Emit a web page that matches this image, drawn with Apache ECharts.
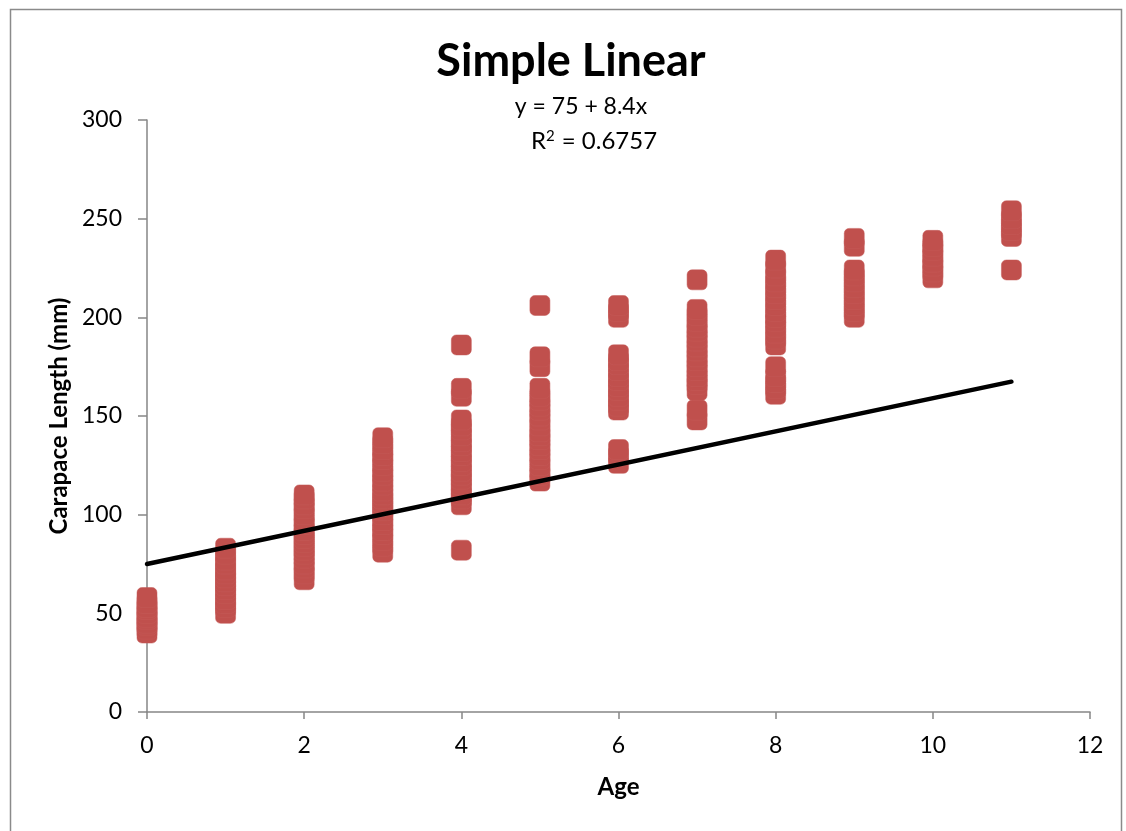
<!DOCTYPE html>
<html>
<head>
<meta charset="utf-8">
<script src="https://cdn.jsdelivr.net/npm/echarts@6/dist/echarts.min.js"></script>
<style>
html,body{margin:0;padding:0;background:#fff;}
#main{width:1126px;height:831px;}
</style>
</head>
<body>
<div id="main"></div>
<script>
// Ages (x) and carapace lengths (y), one list per age
const ages = [0,1,2,3,4,5,6,7,8,9,10,11];
const age0 = [40,42,44,45,47,48,50,52,53,55,58];
const age1 = [50,53,55,57,60,62,64,66,68,70,72,75,77,80,83];
const age2 = [67,70,73,75,78,80,82,84,86,88,90,92,95,97,100,103,105,108,110];
const age3 = [81,84,87,90,92,95,97,100,102,104,106,108,110,112,115,117,120,122,125,128,130,133,136,139];
const age4 = [82,105,108,110,113,115,118,120,122,125,127,130,132,135,137,140,143,145,148,160,164,186];
const age5 = [117,120,122,125,128,130,133,135,138,140,142,145,148,150,153,155,158,160,164,175,180,206];
const age6 = [126,130,133,153,155,158,160,163,165,168,170,173,176,178,181,200,203,206];
const age7 = [148,153,163,166,168,170,173,175,178,180,183,185,188,190,193,195,198,201,204,219];
const age8 = [161,164,167,170,175,186,189,192,195,198,200,203,206,209,212,215,218,221,225,229];
const age9 = [200,203,206,209,212,215,218,221,224,236,240];
const age10 = [220,223,226,228,231,234,236,239];
const age11 = [224,241,244,247,250,254];
const lengthsByAge = [age0,age1,age2,age3,age4,age5,age6,age7,age8,age9,age10,age11];

// Fitted line y = 75 + 8.4x, drawn from x=0 to x=11
const trendX = [0, 11];
const trendY = [75, 167.4];

const xTicks = [0,2,4,6,8,10,12];
const yTicks = [0,50,100,150,200,250,300];

const titleText = 'Simple Linear';
const eqText = 'y = 75 + 8.4x';
const r2Text = '0.6757';
const xName = 'Age';
const yName = 'Carapace Length (mm)';

const points = [];
ages.forEach((a, i) => lengthsByAge[i].forEach(v => points.push([a, v])));
const trend = trendX.map((x, i) => [x, trendY[i]]);

const FONT = 'Lato, "Open Sans", sans-serif';
const chart = echarts.init(document.getElementById('main'), null, {renderer: 'canvas'});
chart.setOption({
  backgroundColor: '#fff',
  animation: false,
  graphic: [{
    type: 'rect', left: 8, top: 7, silent: true,
    shape: {width: 1111, height: 840},
    style: {fill: 'none', stroke: '#8a8a8a', lineWidth: 1.5}
  }],
  title: [
    {text: titleText, left: 566, top: 34, textAlign: 'center',
     textStyle: {fontFamily: FONT, fontWeight: 'bold', fontSize: 45, color: '#000'}},
    {text: eqText, left: 576, top: 90, textAlign: 'center',
     textStyle: {fontFamily: FONT, fontWeight: 'normal', fontSize: 23, color: '#000'}},
    {text: 'R{sup|2} = ' + r2Text, left: 589, top: 124, textAlign: 'center',
     textStyle: {fontFamily: FONT, fontWeight: 'normal', fontSize: 24, color: '#000',
       rich: {sup: {fontFamily: FONT, fontSize: 15, verticalAlign: 'top', lineHeight: 24, padding: [0,1,12,0]}}}}
  ],
  grid: {left: 147, right: 36, top: 120, bottom: 119, containLabel: false},
  xAxis: {
    type: 'value', min: 0, max: 12, interval: 2,
    name: xName, nameLocation: 'middle', nameGap: 63,
    nameTextStyle: {fontFamily: FONT, fontWeight: 'bold', fontSize: 24, color: '#000'},
    axisLine: {show: true, onZero: false, lineStyle: {color: '#868686', width: 1.5}},
    axisTick: {show: true, length: 7, lineStyle: {color: '#868686', width: 1.5}},
    axisLabel: {margin: 22, fontFamily: FONT, fontSize: 23, color: '#000',
      customValues: xTicks},
    splitLine: {show: false}
  },
  yAxis: {
    type: 'value', min: 0, max: 300, interval: 50,
    name: yName, nameLocation: 'middle', nameGap: 75, nameRotate: 90,
    nameTextStyle: {fontFamily: FONT, fontWeight: 'bold', fontSize: 24, color: '#000'},
    axisLine: {show: true, onZero: false, lineStyle: {color: '#868686', width: 1.5}},
    axisTick: {show: true, length: 9, lineStyle: {color: '#868686', width: 1.5}},
    axisLabel: {margin: 25, fontFamily: FONT, fontSize: 23, color: '#000',
      customValues: yTicks},
    splitLine: {show: false}
  },
  series: [
    {
      type: 'scatter', data: points, symbol: 'roundRect', symbolSize: 20, z: 2,
      itemStyle: {color: '#c0504d', borderColor: '#c45b58', borderWidth: 0.5, opacity: 1}
    },
    {
      type: 'line', data: trend, symbol: 'none', z: 3,
      lineStyle: {color: '#000', width: 4.5, cap: 'round'}
    }
  ]
});
</script>
</body>
</html>
